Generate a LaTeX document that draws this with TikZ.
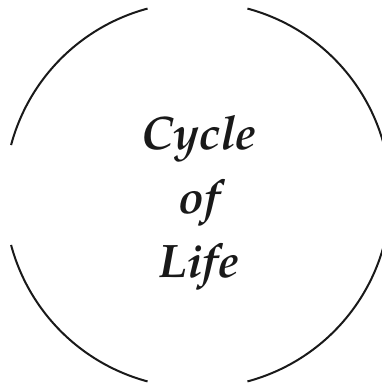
\documentclass[tikz,border=0pt]{standalone}
\usepackage{fontspec}
\setmainfont{texgyrepagella}[Extension=.otf, UprightFont=*-regular, BoldFont=*-bold, ItalicFont=*-italic, BoldItalicFont=*-bolditalic]
\begin{document}
\begin{tikzpicture}[x=1pt,y=-1pt,
  arcline/.style={line width=2pt, draw=black!90},
  title/.style={font=\fontsize{47}{64}\selectfont\bfseries\itshape, align=center, text=black!90, inner sep=0pt}]
\useasboundingbox (0,0) rectangle (381,387);
\coordinate (c) at (197.5,195);
\foreach \a in {15,105,195,285} {
  \draw[arcline] (c) ++(\a:193) arc[start angle=\a, end angle=\a+60, radius=193];
}
\node[title] (t) at (199,203) {Cycle\\of\\Life};
\end{tikzpicture}
\end{document}
